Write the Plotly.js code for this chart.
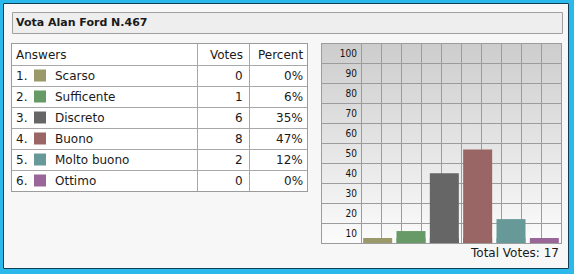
<!DOCTYPE html>
<html>
<head>
<meta charset="utf-8">
<script src="https://cdn.plot.ly/plotly-3.0.1.min.js"></script>
<style>
  html, body { margin: 0; padding: 0; background: #2bb9ec; }
  #chart { width: 574px; height: 274px; }
</style>
</head>
<body>
<div id="chart"></div>
<script>
// ---- data ----
const pollTitle = 'Vota Alan Ford N.467';
const headers = ['Answers', 'Votes', 'Percent'];
const categories = ['Scarso', 'Sufficente', 'Discreto', 'Buono', 'Molto buono', 'Ottimo'];
const votes = [0, 1, 6, 8, 2, 0];
const percents = [0, 6, 35, 47, 12, 0];
const colors = ['#99996a', '#679a67', '#666666', '#9a6565', '#679999', '#9a669a'];
const yTickVals = [5, 15, 25, 35, 45, 55, 65, 75, 85, 95];
const yTickText = ['10', '20', '30', '40', '50', '60', '70', '80', '90', '100'];
const gridCols = [0, 1, 2, 3, 4, 5, 6, 7, 8, 9, 10];
const gridRows = [10, 20, 30, 40, 50, 60, 70, 80, 90];

// ---- helpers (layout in pixels) ----
const W = 574, H = 274;
const px = x => x / W;
const py = y => 1 - y / H;
const FONT = 'DejaVu Sans, Verdana, sans-serif';
const TXT = '#1a1a1a';
const GRID = '#9c9c9c';
const MIN_BAR = 2.5; // minimum visible bar height (style)

const totalVotes = votes.reduce((a, b) => a + b, 0);

// gradient image for chart background
const cv = document.createElement('canvas');
cv.width = 4; cv.height = 200;
const ctx = cv.getContext('2d');
const g = ctx.createLinearGradient(0, 0, 0, 200);
g.addColorStop(0, '#cdcdcd');
g.addColorStop(1, '#fcfcfc');
ctx.fillStyle = g;
ctx.fillRect(0, 0, 4, 200);
const gradURL = cv.toDataURL('image/png');

// ---- table columns (pixel offsets inside table) ----
const T_LEFT = 12, T_RIGHT = 307, T_TOP = 44, T_BOTTOM = 191;
const COL_NUM = 2, COL_SW = 28, COL_NAME = 41, COL_VOTES = 233, COL_PCT = 293;
const colSeps = [185, 237];

const annotations = [];
annotations.push({
  xref: 'paper', yref: 'paper', x: px(14), y: py(23), xanchor: 'left', yanchor: 'middle',
  text: '<b>' + pollTitle + '</b>', showarrow: false,
  font: { family: FONT, size: 11, color: TXT }
});
// header
[[COL_NUM, 'left'], [COL_VOTES, 'right'], [COL_PCT, 'right']].forEach((c, i) => {
  annotations.push({
    xref: 'x3', yref: 'y3', x: c[0], y: 0, xanchor: c[1], yanchor: 'middle',
    text: headers[i], showarrow: false, font: { family: FONT, size: 12, color: TXT }
  });
});
categories.forEach((cat, i) => {
  const row = i + 1;
  const base = { xref: 'x3', yref: 'y3', y: row, yanchor: 'middle', showarrow: false,
                 font: { family: FONT, size: 12, color: TXT } };
  annotations.push(Object.assign({}, base, { x: COL_NUM, xanchor: 'left', text: row + '.' }));
  annotations.push(Object.assign({}, base, { x: COL_NAME, xanchor: 'left', text: cat }));
  annotations.push(Object.assign({}, base, { x: COL_VOTES, xanchor: 'right', text: String(votes[i]) }));
  annotations.push(Object.assign({}, base, { x: COL_PCT, xanchor: 'right', text: percents[i] + '%' }));
});
annotations.push({
  xref: 'paper', yref: 'paper', x: px(561), y: py(253), xanchor: 'right', yanchor: 'middle',
  text: 'Total Votes: ' + totalVotes, showarrow: false,
  font: { family: FONT, size: 12, color: TXT }
});

const traces = [
  { // minimum-height floor for every bar (drawn on the labelled overlay axis)
    type: 'bar', x: categories, y: categories.map(() => MIN_BAR),
    marker: { color: colors, line: { width: 0 } },
    xaxis: 'x', yaxis: 'y2', hoverinfo: 'skip', showlegend: false
  },
  {
    type: 'bar', x: categories, y: percents, name: 'Percent',
    marker: { color: colors, line: { width: 0 } },
    xaxis: 'x', yaxis: 'y', showlegend: false
  },
  { // empty trace that only carries the vertical grid axis
    type: 'scatter', mode: 'lines', x: [], y: [], xaxis: 'x2', yaxis: 'y',
    hoverinfo: 'skip', showlegend: false
  },
  { // colour swatches in the table
    type: 'scatter', mode: 'markers', x: categories.map(() => COL_SW),
    y: categories.map((c, i) => i + 1),
    marker: { symbol: 'square', size: 12, color: colors, line: { width: 0 } },
    xaxis: 'x3', yaxis: 'y3', hoverinfo: 'skip', showlegend: false
  }
];

const layout = {
  width: W, height: H,
  margin: { l: 0, r: 0, t: 0, b: 0, pad: 0 },
  paper_bgcolor: '#f7f7f7',
  plot_bgcolor: 'rgba(0,0,0,0)',
  showlegend: false,
  hovermode: false,
  barmode: 'overlay',
  bargap: 0.13,
  font: { family: FONT, size: 12, color: TXT },
  xaxis: {
    type: 'category', domain: [px(322), px(561)], range: [-1.67, 5.5],
    anchor: 'y', showticklabels: false, showgrid: false, zeroline: false, ticks: '',
    showline: true, mirror: true, linecolor: GRID, linewidth: 1, fixedrange: true
  },
  yaxis: {
    domain: [py(243), py(44)], range: [0, 100], anchor: 'x',
    tickvals: gridRows, showgrid: true, gridcolor: GRID, gridwidth: 1,
    showticklabels: false, zeroline: false, ticks: '',
    showline: true, mirror: true, linecolor: GRID, linewidth: 1, fixedrange: true
  },
  xaxis2: {
    overlaying: 'x', anchor: 'y', range: [-1.95, 10],
    tickvals: gridCols, showgrid: true, gridcolor: GRID, gridwidth: 1,
    showticklabels: false, zeroline: false, ticks: '', showline: false, fixedrange: true
  },
  yaxis2: {
    overlaying: 'y', anchor: 'free', position: px(361), side: 'left', range: [0, 100],
    tickvals: yTickVals, ticktext: yTickText, showgrid: false, zeroline: false,
    ticks: '', showline: false, fixedrange: true, ticklabelstandoff: 4,
    tickfont: { family: 'DejaVu Sans Condensed, DejaVu Sans, sans-serif', size: 10, color: '#111111' }
  },
  xaxis3: {
    domain: [px(T_LEFT), px(T_RIGHT)], range: [0, T_RIGHT - T_LEFT], anchor: 'y3',
    tickvals: colSeps, showgrid: true, gridcolor: '#a8a8a8', gridwidth: 1,
    showticklabels: false, zeroline: false, ticks: '',
    showline: true, mirror: true, linecolor: GRID, linewidth: 1, fixedrange: true
  },
  yaxis3: {
    domain: [py(T_BOTTOM), py(T_TOP)], range: [6.5, -0.5], anchor: 'x3',
    tickvals: [0.5, 1.5, 2.5, 3.5, 4.5, 5.5], showgrid: true, gridcolor: '#a8a8a8', gridwidth: 1,
    showticklabels: false, zeroline: false, ticks: '',
    showline: true, mirror: true, linecolor: GRID, linewidth: 1, fixedrange: true
  },
  shapes: [
    { type: 'rect', xref: 'paper', yref: 'paper', layer: 'below',
      x0: px(12.5), x1: px(562.5), y0: py(33.5), y1: py(12.5),
      fillcolor: '#eeeeee', line: { color: '#a0a0a0', width: 1 } },
    { type: 'rect', xref: 'paper', yref: 'paper', layer: 'below',
      x0: px(T_LEFT), x1: px(T_RIGHT), y0: py(T_BOTTOM), y1: py(T_TOP),
      fillcolor: '#ffffff', line: { width: 0 } },
    // outer blue frame and dark inner line
    { type: 'rect', xref: 'paper', yref: 'paper', layer: 'above',
      x0: px(0), x1: px(572), y0: py(272), y1: py(0),
      line: { color: '#2bb9ec', width: 6 } },
    { type: 'rect', xref: 'paper', yref: 'paper', layer: 'above',
      x0: px(3.5), x1: px(568.5), y0: py(268.5), y1: py(3.5),
      line: { color: '#123d57', width: 1 } }
  ],
  images: [
    { source: gradURL, xref: 'paper', yref: 'paper', layer: 'below',
      x: px(322), y: py(44), sizex: px(561) - px(322), sizey: py(44) - py(243),
      xanchor: 'left', yanchor: 'top', sizing: 'stretch' }
  ],
  annotations: annotations
};

Plotly.newPlot('chart', traces, layout, { staticPlot: true, displayModeBar: false });
</script>
</body>
</html>
